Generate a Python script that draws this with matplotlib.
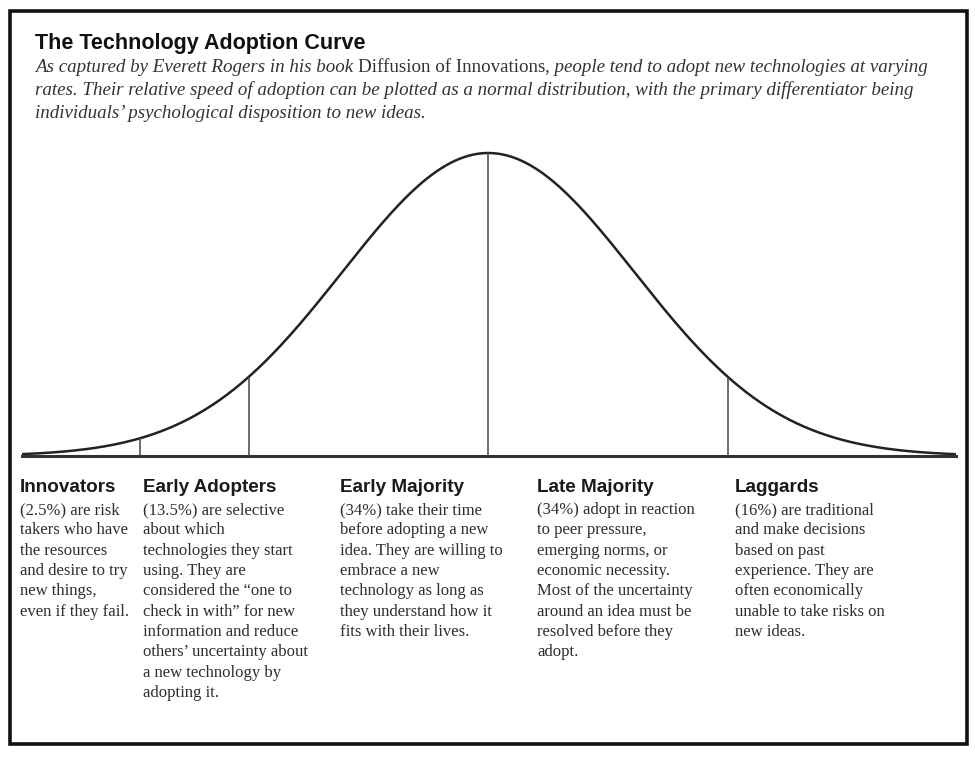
import numpy as np
import matplotlib.pyplot as plt
from matplotlib.patches import Rectangle

W, H = 975, 759

# Data
curve_mean = 0.0
curve_sd = 1.0
x_range = (-3.19, 3.2)
divider_x = [-2.38, -1.64, 0.0, 1.64]

title = "The Technology Adoption Curve"
subtitle_lines = [
    [("As captured by Everett Rogers in his book ", "italic"),
     ("Diffusion of Innovations", "normal"),
     (", people tend to adopt new technologies at varying", "italic")],
    [("rates. Their relative speed of adoption can be plotted as a normal distribution, with the primary differentiator being", "italic")],
    [("individuals\u2019 psychological disposition to new ideas.", "italic")],
]

groups = ["Innovators", "Early Adopters", "Early Majority", "Late Majority", "Laggards"]
descriptions = [
    "(2.5%) are risk\ntakers who have\nthe resources\nand desire to try\nnew things,\neven if they fail.",
    "(13.5%) are selective\nabout which\ntechnologies they start\nusing. They are\nconsidered the \u201cone to\ncheck in with\u201d for new\ninformation and reduce\nothers\u2019 uncertainty about\na new technology by\nadopting it.",
    "(34%) take their time\nbefore adopting a new\nidea. They are willing to\nembrace a new\ntechnology as long as\nthey understand how it\nfits with their lives.",
    "(34%) adopt in reaction\nto peer pressure,\nemerging norms, or\neconomic necessity.\nMost of the uncertainty\naround an idea must be\nresolved before they\nadopt.",
    "(16%) are traditional\nand make decisions\nbased on past\nexperience. They are\noften economically\nunable to take risks on\nnew ideas.",
]
group_x = [20, 143, 340, 537, 735]


def fx(px):
    return px / W


def fy(py):
    return 1 - py / H


fig = plt.figure(figsize=(W / 100, H / 100), dpi=100)
fig.patch.set_facecolor("white")

# outer frame
fig.patches.append(Rectangle((fx(10), fy(744)), fx(967) - fx(10), fy(11) - fy(744),
                             transform=fig.transFigure, fill=False,
                             edgecolor="#111111", linewidth=2.6))

# curve axes: baseline at y=456 px, peak at y=153 px, x from 22 to 956 px
ax = fig.add_axes([fx(22), fy(456), fx(956) - fx(22), (456 - 153) / H])
ax.set_xlim(*x_range)
ax.set_ylim(0, 1)
ax.axis("off")

xs = np.linspace(x_range[0], x_range[1], 600)
ys = np.exp(-0.5 * ((xs - curve_mean) / curve_sd) ** 2)
ax.plot(xs, ys, color="#222222", lw=1.8, clip_on=False, solid_capstyle="butt")
ax.axhline(0, color="#333333", lw=2.2, clip_on=False)
for d in divider_x:
    h = np.exp(-0.5 * ((d - curve_mean) / curve_sd) ** 2)
    ax.vlines(d, 0, h, color="#444444", lw=1.1)

# title and subtitle
fig.text(fx(35), fy(43), title, fontsize=15.5, fontweight="bold",
         family="Liberation Sans", color="#111111", va="center", ha="left")

renderer = fig.canvas.get_renderer()
for i, parts in enumerate(subtitle_lines):
    x = fx(35)
    y = fy(67 + 23 * i)
    for txt, style in parts:
        t = fig.text(x, y, txt, fontsize=13.7, style=style, family="Liberation Serif",
                     color="#333333", va="center", ha="left")
        bb = t.get_window_extent(renderer=renderer)
        x += bb.width / W

# group headers and descriptions
for name, desc, gx in zip(groups, descriptions, group_x):
    fig.text(fx(gx), fy(487), name, fontsize=13.6, fontweight="bold",
             family="Liberation Sans", color="#1a1a1a", va="center", ha="left")
    fig.text(fx(gx), fy(502), desc, fontsize=12, family="Liberation Serif",
             color="#2e2e2e", va="top", ha="left", linespacing=1.36)

fig.savefig("out.png", dpi=100, facecolor="white")
